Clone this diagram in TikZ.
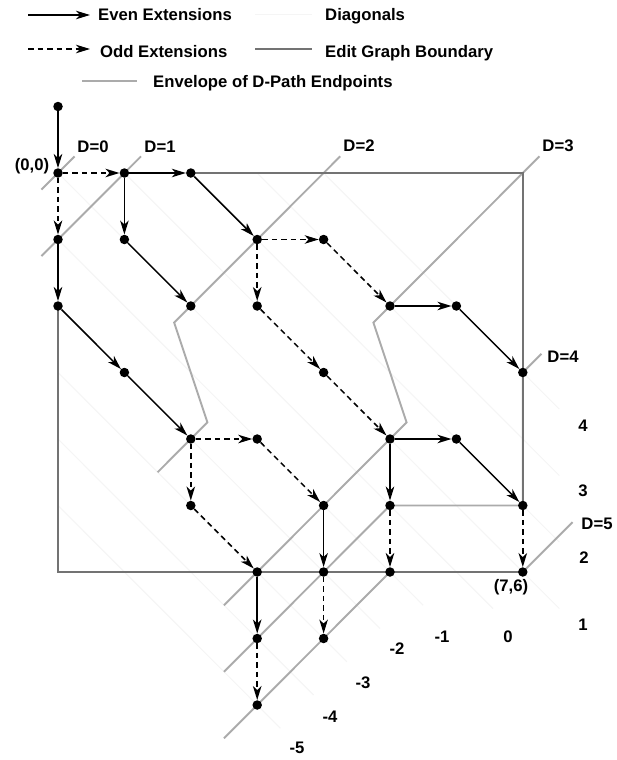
\documentclass[tikz,border=0pt]{standalone}
\usepackage{fontspec}
\setmainfont{Liberation Sans}
\usetikzlibrary{arrows.meta}
\begin{document}
\begin{tikzpicture}[x=1pt,y=-1pt,
  dot/.style={circle,fill=black,inner sep=0pt,minimum size=9.5pt},
  even/.style={draw=black,line width=1.5pt,-{Stealth[length=14pt,width=8.5pt,inset=4pt]}},
  odd/.style={even,dash pattern=on 5.5pt off 4pt},
  bound/.style={draw=black!55,line width=1.9pt},
  env/.style={draw=black!33,line width=1.9pt},
  diag/.style={draw=black!4,line width=1pt},
  lbl/.style={font=\bfseries\fontsize{16.7}{20}\selectfont,inner sep=0pt},
]
\useasboundingbox (0,0) rectangle (616,760);
\fill[white] (0,0) rectangle (616,760);

% ---------- legend ----------
\coordinate (la1) at (28,15);  \coordinate (la2) at (90,15);
\coordinate (lb1) at (28,49);  \coordinate (lb2) at (90,49);
\coordinate (lc1) at (255,15); \coordinate (lc2) at (312,15);
\coordinate (ld1) at (255,49); \coordinate (ld2) at (312,49);
\coordinate (le1) at (82,81);  \coordinate (le2) at (137,81);
\draw[even] (la1) -- (la2);
\draw[odd] (lb1) -- (lb2);
\draw[diag] (lc1) -- (lc2);
\draw[bound] (ld1) -- (ld2);
\draw[env] (le1) -- (le2);
\node[lbl,anchor=base west] (t1) at (98,21) {Even Extensions};
\node[lbl,anchor=base west] (t2) at (325,21) {Diagonals};
\node[lbl,anchor=base west] (t3) at (100,57) {Odd Extensions};
\node[lbl,anchor=base west] (t4) at (325,57) {Edit Graph Boundary};
\node[lbl,anchor=base west] (t5) at (153,87) {Envelope of D-Path Endpoints};

% ---------- grid ----------
\begin{scope}[shift={(58,173)},x=66.4pt,y=-66.5pt]
\coordinate (p0m) at (0,-1);
\coordinate (p00) at (0,0); \coordinate (p10) at (1,0); \coordinate (p20) at (2,0);
\coordinate (p01) at (0,1); \coordinate (p11) at (1,1); \coordinate (p31) at (3,1); \coordinate (p41) at (4,1);
\coordinate (p02) at (0,2); \coordinate (p22) at (2,2); \coordinate (p32) at (3,2); \coordinate (p52) at (5,2); \coordinate (p62) at (6,2);
\coordinate (p13) at (1,3); \coordinate (p43) at (4,3); \coordinate (p73) at (7,3);
\coordinate (p24) at (2,4); \coordinate (p34) at (3,4); \coordinate (p54) at (5,4); \coordinate (p64) at (6,4);
\coordinate (p25) at (2,5); \coordinate (p45) at (4,5); \coordinate (p55) at (5,5); \coordinate (p75) at (7,5);
\coordinate (p36) at (3,6); \coordinate (p46) at (4,6); \coordinate (p56) at (5,6); \coordinate (p76) at (7,6);
\coordinate (p37) at (3,7); \coordinate (p47) at (4,7);
\coordinate (p38) at (3,8);
\coordinate (c70) at (7,0); \coordinate (c06) at (0,6);

% faint diagonals
\foreach \k/\ex/\ey in {4/7.55/3.55,3/7.55/4.55,2/7.55/5.55,1/7.55/6.55,0/6.55/6.55}
  \draw[diag] (\k,0) -- (\ex,\ey);
\foreach \k/\ex/\ey in {1/5.5/6.5,2/4.85/6.85,3/4.35/7.35,4/3.85/7.85,5/3.35/8.35}
  \draw[diag] (0,\k) -- (\ex,\ey);

% envelopes
\draw[env] (0.25,-0.25) -- (p00) -- (-0.25,0.25);
\draw[env] (1.25,-0.25) -- (p10) -- (p01) -- (-0.25,1.25);
\draw[env] (4.25,-0.25) -- (p31) -- (p22) -- (1.75,2.25) -- (2.25,3.75) -- (p24) -- (1.5,4.5);
\draw[env] (7.25,-0.25) -- (c70) -- (p52) -- (4.75,2.25) -- (5.25,3.75) -- (p54) -- (p45) -- (p36) -- (2.5,6.5);
\draw[env] (7.28,2.72) -- (p73) -- (p75) -- (p55) -- (p46) -- (p37) -- (2.5,7.5);
\draw[env] (7.75,5.25) -- (p76) -- (p56) -- (p47) -- (p38) -- (2.5,8.5);

% boundary
\draw[bound] (p20) -- (c70) -- (p75);
\draw[bound] (p76) -- (c06) -- (p02);

% dots
\foreach \n in {0m,00,10,20,01,11,31,41,02,22,32,52,62,13,43,73,24,34,54,64,25,45,55,75,36,46,56,76,37,47,38}
  \node[dot] (n\n) at (p\n) {};

% extensions
\draw[even] (n0m) -- (n00);
\draw[odd] (n00) -- (n10);
\draw[odd] (n00) -- (n01);
\draw[even] (n10) -- (n20);
\draw[even] (n10) -- (n11);
\draw[even] (n20) -- (n31);
\draw[even] (n01) -- (n02);
\draw[even] (n11) -- (n22);
\draw[odd] (n31) -- (n41);
\draw[odd] (n31) -- (n32);
\draw[odd] (n41) -- (n52);
\draw[even] (n02) -- (n13);
\draw[even] (n13) -- (n24);
\draw[odd] (n32) -- (n43);
\draw[odd] (n43) -- (n54);
\draw[even] (n52) -- (n62);
\draw[even] (n62) -- (n73);
\draw[odd] (n24) -- (n34);
\draw[odd] (n24) -- (n25);
\draw[odd] (n34) -- (n45);
\draw[odd] (n25) -- (n36);
\draw[even] (n54) -- (n64);
\draw[even] (n54) -- (n55);
\draw[even] (n64) -- (n75);
\draw[even] (n45) -- (n46);
\draw[odd] (n55) -- (n56);
\draw[odd] (n75) -- (n76);
\draw[even] (n36) -- (n37);
\draw[odd] (n46) -- (n47);
\draw[odd] (n37) -- (n38);
\end{scope}

% ---------- labels ----------
\node[lbl] (l00) at (32,166) {(0,0)};
\node[lbl] (l76) at (511,587) {(7,6)};
\node[lbl] (d0) at (93,147) {D=0};
\node[lbl] (d1) at (160,147) {D=1};
\node[lbl] (d2) at (359,146) {D=2};
\node[lbl] (d3) at (558,146) {D=3};
\node[lbl] (d4) at (563,357) {D=4};
\node[lbl] (d5) at (597,524) {D=5};
\node[lbl] (k4) at (583,426) {4};
\node[lbl] (k3) at (583,491) {3};
\node[lbl] (k2) at (584,558) {2};
\node[lbl] (k1) at (583,625) {1};
\node[lbl] (k0) at (508,637) {0};
\node[lbl] (km1) at (442,637) {-1};
\node[lbl] (km2) at (397,649) {-2};
\node[lbl] (km3) at (363,683) {-3};
\node[lbl] (km4) at (330,717) {-4};
\node[lbl] (km5) at (297,748) {-5};
\end{tikzpicture}
\end{document}
